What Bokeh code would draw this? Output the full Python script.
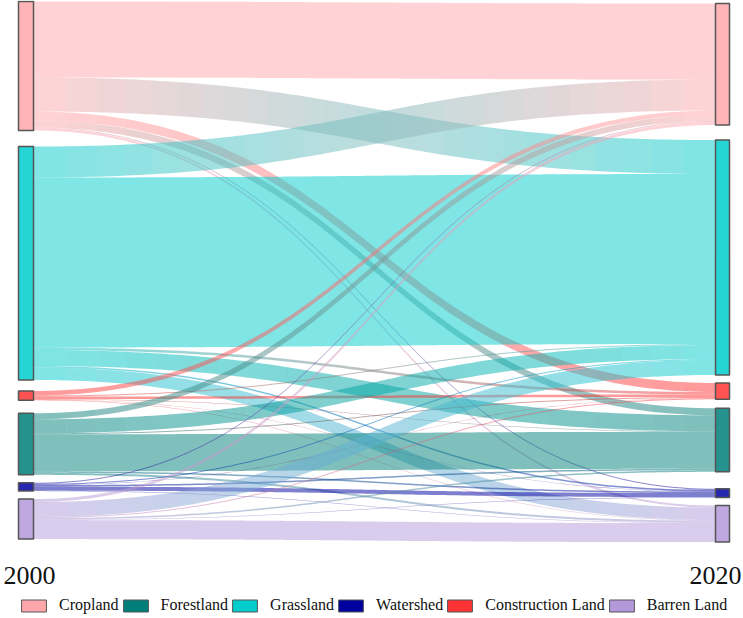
import numpy as np
from bokeh.plotting import figure
from bokeh.models import Range1d, Legend, LegendItem, ColumnDataSource
from bokeh.core.properties import value
from bokeh.embed import file_html
from bokeh.resources import INLINE

# ---------------- data ----------------
years = ["2000", "2020"]
nodes = ["Cropland", "Grassland", "Construction Land", "Forestland", "Watershed", "Barren Land"]
# land-use transfer 2000 -> 2020 (rows: class in 2000, columns: class in 2020, in node order)
from_cropland     = [76, 34, 9, 7, 1, 2]
from_grassland    = [31, 170, 2.5, 16, 1.5, 12.5]
from_construction = [4.5, 1, 2.5, 0.5, 0.3, 0.5]
from_forestland   = [6, 14, 1, 37, 1.5, 2]
from_watershed    = [1, 1, 0.3, 1.5, 4, 0.5]
from_barren       = [3, 15, 1, 1.5, 0.5, 19]
legend_labels = ["Cropland", "Forestland", "Grassland", "Watershed", "Construction Land", "Barren Land"]

# ---------------- style / layout ----------------
base_color = {"Cropland": "#FFA8AC", "Grassland": "#00CCCC", "Construction Land": "#FF3333",
              "Forestland": "#007F7A", "Watershed": "#0000A0", "Barren Land": "#B399D9"}
W, H = 743, 618
scale = 1.0
left_top, right_top = 1, 3
left_gaps = [16, 11, 13, 8, 8]
right_gaps = [15, 8, 9, 17, 8]
lx0, lx1 = 18, 33
rx0, rx1 = 715, 729
seam = 0.05   # tiny overlap between gradient slices to hide anti-aliasing seams

matrix = np.array([from_cropland, from_grassland, from_construction,
                   from_forestland, from_watershed, from_barren], dtype=float)
n = len(nodes)
out_tot = matrix.sum(axis=1)
in_tot = matrix.sum(axis=0)

def stack(tops, totals, gaps):
    y = tops
    starts = []
    for i, t in enumerate(totals):
        starts.append(y)
        y += t * scale
        if i < len(gaps):
            y += gaps[i]
    return starts

lstart = stack(left_top, out_tot, left_gaps)
rstart = stack(right_top, in_tot, right_gaps)

def hex2rgb(h):
    h = h.lstrip("#")
    return np.array([int(h[i:i + 2], 16) for i in (0, 2, 4)], dtype=float)

def rgb2hex(c):
    return "#%02x%02x%02x" % tuple(int(round(v)) for v in c)

def blend_white(h, a):
    c = hex2rgb(h)
    return rgb2hex(c * a + 255 * (1 - a))

p = figure(width=W, height=H, x_range=Range1d(0, W), y_range=Range1d(H, 0),
           x_axis_type=None, y_axis_type=None, toolbar_location=None,
           output_backend="svg", min_border=0)
p.outline_line_color = None
p.grid.visible = False

# links
xs_all, ys_all, cols = [], [], []
t = np.linspace(0, 1, 121)
K = 30
for i in range(n):
    for j in range(n):
        v = matrix[i, j]
        if v <= 0:
            continue
        y0a = lstart[i] + matrix[i, :j].sum() * scale
        y0b = y0a + v * scale
        y1a = rstart[j] + matrix[:i, j].sum() * scale
        y1b = y1a + v * scale
        xm = (lx1 + rx0) / 2
        bx = (1 - t) ** 3 * lx1 + 3 * (1 - t) ** 2 * t * xm + 3 * (1 - t) * t ** 2 * xm + t ** 3 * rx0
        s = 3 * (1 - t) * t ** 2 + t ** 3
        ya = y0a + (y1a - y0a) * s
        yb = y0b + (y1b - y0b) * s
        c0 = hex2rgb(base_color[nodes[i]])
        c1 = hex2rgb(base_color[nodes[j]])
        if i == j:
            xs_all.append(list(bx) + list(bx[::-1]))
            ys_all.append(list(ya) + list(yb[::-1]))
            cols.append(rgb2hex(c0))
            continue
        idx = np.linspace(0, len(t) - 1, K + 1).astype(int)
        for k in range(K):
            a, b = idx[k], idx[k + 1]
            sx = bx[a:b + 1].copy()
            if k > 0:
                sx[0] -= seam
            if k < K - 1:
                sx[-1] += seam
            xs_all.append(list(sx) + list(sx[::-1]))
            ys_all.append(list(ya[a:b + 1]) + list(yb[a:b + 1][::-1]))
            f = ((bx[a] + bx[b]) / 2 - lx1) / (rx0 - lx1)
            cols.append(rgb2hex(c0 * (1 - f) + c1 * f))

p.patches(xs="xs", ys="ys", fill_color="c", fill_alpha=0.5, line_color=None,
          source=ColumnDataSource(dict(xs=xs_all, ys=ys_all, c=cols)))

# nodes
node_src = dict(left=[], right=[], top=[], bottom=[], c=[])
for i in range(n):
    for (x0, x1, st, tot) in ((lx0, lx1, lstart[i], out_tot[i]), (rx0, rx1, rstart[i], in_tot[i])):
        node_src["left"].append(x0)
        node_src["right"].append(x1)
        node_src["top"].append(st)
        node_src["bottom"].append(st + tot * scale)
        node_src["c"].append(blend_white(base_color[nodes[i]], 0.85))
p.quad(left="left", right="right", top="top", bottom="bottom", fill_color="c",
       line_color="#555555", line_width=1.5, source=ColumnDataSource(node_src))

# year labels
p.text(x=[3], y=[575], text=[years[0]], text_font=value("Liberation Serif"),
       text_font_size="26px", text_baseline="middle", text_align="left", text_color="#111111")
p.text(x=[741], y=[575], text=[years[1]], text_font=value("Liberation Serif"),
       text_font_size="26px", text_baseline="middle", text_align="right", text_color="#111111")

# legend (proxy renderers placed outside the visible range)
items = []
for lab in legend_labels:
    r = p.quad(left=[-50], right=[-40], top=[-50], bottom=[-40], fill_color=base_color[lab],
               line_color="#555555", line_width=1)
    items.append(LegendItem(label=lab, renderers=[r]))
leg = Legend(items=items, orientation="horizontal", location=(18, 4),
             glyph_width=31, glyph_height=15, label_standoff=10, spacing=1,
             padding=0, margin=0, border_line_color=None, background_fill_alpha=0,
             label_text_font="Liberation Serif", label_text_font_size="16px",
             label_height=15, label_text_color="#111111")
p.add_layout(leg)

open("out.html", "w").write(file_html(p, INLINE))
